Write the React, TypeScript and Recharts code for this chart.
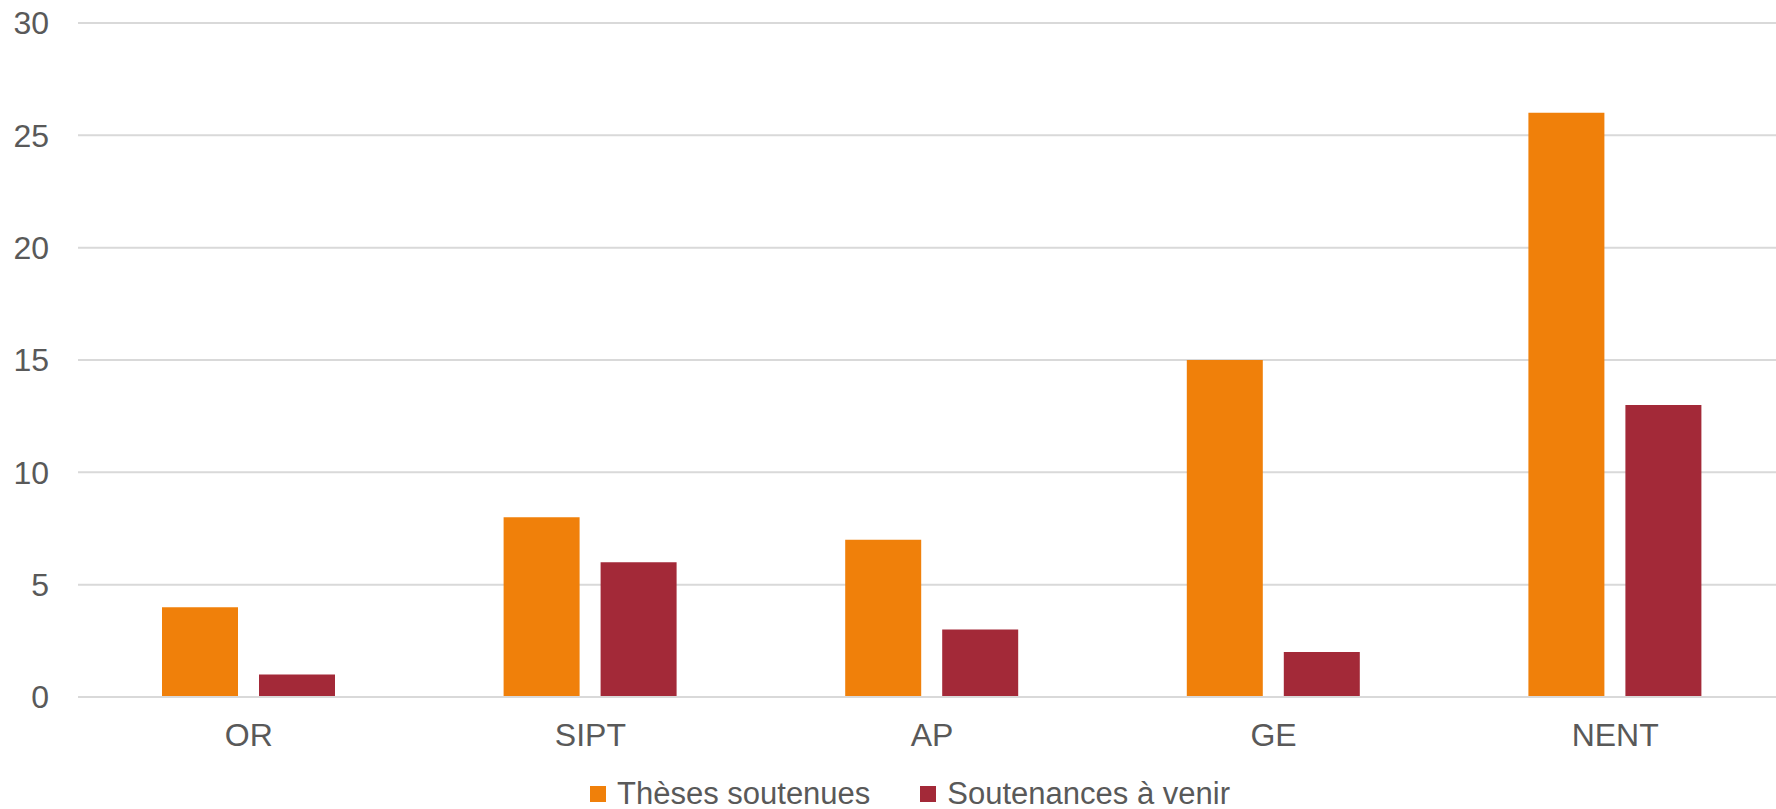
import { BarChart, Bar, XAxis, YAxis, CartesianGrid, Legend } from "recharts";

const categories = ["OR", "SIPT", "AP", "GE", "NENT"];
const thesesSoutenues = [4, 8, 7, 15, 26];
const soutenancesAVenir = [1, 6, 3, 2, 13];
const yTicks = [0, 5, 10, 15, 20, 25, 30];

const seriesNames = ["Thèses soutenues", "Soutenances à venir"];
const colors = ["#F0800A", "#A32938"];
const FONT = "'Liberation Sans', Arial, sans-serif";
const TEXT = "#595959";

const data = categories.map((c, i) => ({
  name: c,
  theses: thesesSoutenues[i],
  soutenances: soutenancesAVenir[i],
}));

function LegendContent() {
  return (
    <div
      style={{
        height: 40,
        boxSizing: "border-box",
        paddingTop: 10,
        paddingLeft: 34,
        display: "flex",
        justifyContent: "center",
        alignItems: "center",
        fontFamily: FONT,
        fontSize: 31,
        color: TEXT,
      }}
    >
      {seriesNames.map((n, i) => (
        <div key={n} style={{ display: "flex", alignItems: "center", marginRight: i === 0 ? 50 : 0 }}>
          <span style={{ width: 16, height: 16, background: colors[i], marginRight: 11, display: "inline-block" }} />
          <span style={{ lineHeight: "32px" }}>{n}</span>
        </div>
      ))}
    </div>
  );
}

export default function App() {
  return (
    <div style={{ position: "absolute", left: 0, top: 0, background: "#fff" }}>
      <BarChart
        width={1776}
        height={809}
        data={data}
        margin={{ top: 23, right: -10, left: 0, bottom: 0 }}
        barGap={21}
      >
        <CartesianGrid vertical={false} stroke="#D9D9D9" strokeWidth={2} />
        <XAxis
          dataKey="name"
          height={72}
          tickLine={false}
          axisLine={{ stroke: "#D9D9D9", strokeWidth: 2 }}
          tickMargin={20}
          tick={{ fill: TEXT, fontSize: 32, fontFamily: FONT }}
        />
        <YAxis
          width={78}
          domain={[0, 30]}
          ticks={yTicks}
          tickLine={false}
          axisLine={false}
          tickMargin={23}
          tick={{ fill: TEXT, fontSize: 32, fontFamily: FONT }}
        />
        <Legend verticalAlign="bottom" content={<LegendContent />} />
        <Bar dataKey="theses" name={seriesNames[0]} fill={colors[0]} barSize={76} isAnimationActive={false} />
        <Bar dataKey="soutenances" name={seriesNames[1]} fill={colors[1]} barSize={76} isAnimationActive={false} />
      </BarChart>
    </div>
  );
}
